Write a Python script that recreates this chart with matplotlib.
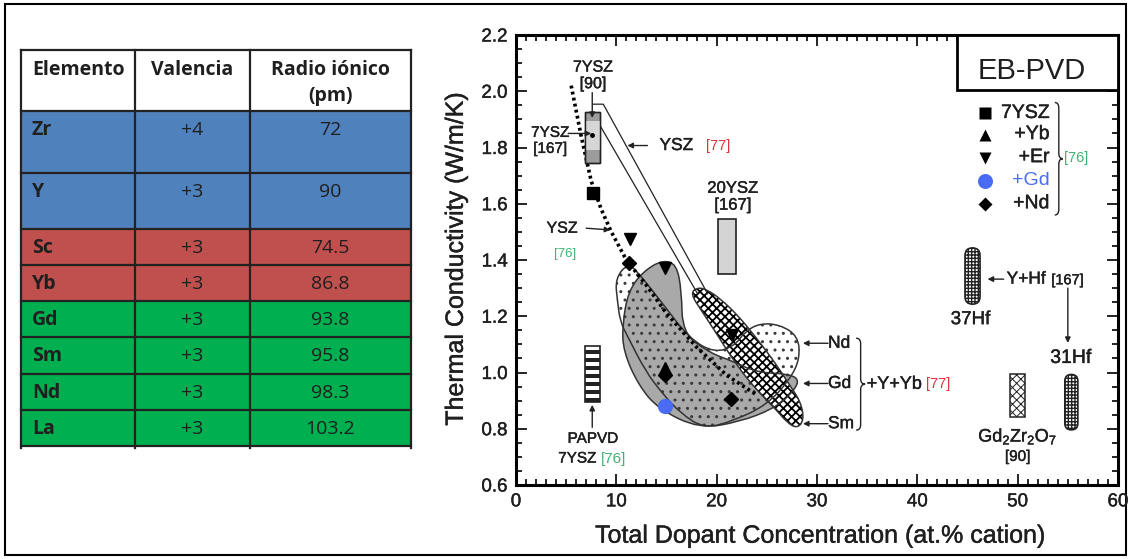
import matplotlib
matplotlib.use('Agg')
import matplotlib.pyplot as plt
import matplotlib.patches as patches
import matplotlib.patheffects as pe
from matplotlib.path import Path
import numpy as np

FONT = 'Liberation Sans'
plt.rcParams['mathtext.fontset'] = 'custom'
plt.rcParams['mathtext.rm'] = FONT
plt.rcParams['mathtext.it'] = FONT

# ---------------- table data ----------------
encabezado = ['Elemento', 'Valencia', 'Radio iónico', '(pm)']
elementos = ['Zr', 'Y', 'Sc', 'Yb', 'Gd', 'Sm', 'Nd', 'La']
valencias = ['+4', '+3', '+3', '+3', '+3', '+3', '+3', '+3']
radios = ['72', '90', '74.5', '86.8', '93.8', '95.8', '98.3', '103.2']
grupos = ['base', 'base', 'menor', 'menor', 'mayor', 'mayor', 'mayor', 'mayor']

# ---------------- plot data ----------------
ysz7_x = [7.7]
ysz7_y = [1.64]
yb_x = [14.9]
yb_y = [1.015]
er_x = [11.4, 14.9, 21.5]
er_y = [1.475, 1.37, 1.135]
gd_x = [14.9]
gd_y = [0.88]
nd_x = [11.3, 14.9, 21.4]
nd_y = [1.39, 0.99, 0.905]

# YSZ trend [76]
ysz76_x = [5.5, 6.5, 7.5, 8.5, 9.5, 11.0, 13.0, 15.0, 18.0, 21.0, 24.0]
ysz76_y = [2.02, 1.84, 1.68, 1.58, 1.50, 1.40, 1.31, 1.21, 1.09, 0.99, 0.92]

# YSZ band [77]
band_outer_x = [7.7, 8.7, 19.1]
band_outer_y = [1.954, 1.954, 1.28]
band_inner_x = [8.1, 18.1]
band_inner_y = [1.895, 1.28]

# +Y+Yb regions [77]
gd_reg_x = [12.7, 14.6, 16.0, 16.5, 16.6, 19.3, 21.6, 24.0, 27.3, 28.3, 27.3,
            25.6, 22.3, 18.3, 14.2, 12.2, 10.7, 10.6, 11.2]
gd_reg_y = [1.36, 1.40, 1.385, 1.29, 1.14, 1.07, 1.04, 1.00, 0.995, 0.97, 0.92,
            0.87, 0.825, 0.80, 0.87, 0.955, 1.075, 1.17, 1.29]
nd_reg_x = [11.2, 9.9, 10.1, 10.4, 11.1, 12.9, 14.6, 16.4, 18.8, 21.8, 25.0,
            27.3, 28.3, 28.1, 26.3, 24.3, 22.8, 21.8, 19.8, 17.3, 14.4, 12.4]
nd_reg_y = [1.39, 1.335, 1.255, 1.18, 1.13, 1.005, 0.925, 0.855, 0.80, 0.83,
            0.885, 0.975, 1.05, 1.13, 1.17, 1.175, 1.145, 1.095, 1.07, 1.12,
            1.255, 1.345]
sm_reg_x = [17.35, 18.6, 20.1, 21.8, 23.8, 25.8, 27.0, 28.0, 28.7, 28.4, 27.3,
            25.8, 24.0, 22.1, 20.3, 19.1, 18.15]
sm_reg_y = [1.282, 1.214, 1.132, 1.036, 0.944, 0.873, 0.823, 0.801, 0.830, 0.894,
            0.954, 1.036, 1.121, 1.204, 1.264, 1.293, 1.303]

# ranges: x, low, high
rng_7ysz90 = (7.65, 1.745, 1.925)
rng_7ysz167 = (7.65, 1.79, 1.895)
rng_20ysz = (21.0, 1.35, 1.546)
rng_papvd = (7.65, 0.895, 1.093)
rng_gzo = (50.0, 0.843, 0.993)
rng_37hf = (45.5, 1.243, 1.443)
rng_31hf = (55.35, 0.796, 0.993)

TXT = '#1f1f1f'
STROKE = [pe.withStroke(linewidth=0.3, foreground=TXT)]

fig = plt.figure(figsize=(11.3, 5.59), dpi=100)
bg = fig.add_axes([0, 0, 1, 1])
bg.set_xlim(0, 1130)
bg.set_ylim(559, 0)
bg.axis('off')
bg.add_patch(patches.Rectangle((5, 4), 1121, 551, fill=False, lw=1.5, ec='black'))

# ---------------- table ----------------
col_x = [21, 135, 250, 411]
row_y = [50, 111, 173, 229, 265, 301, 337, 374, 410, 446]
colores = {'base': '#4F81BD', 'menor': '#C0504D', 'mayor': '#00B050'}
tfont = 'Open Sans'
tsize = 14

for i in range(len(elementos)):
    top, bot = row_y[i + 1], row_y[i + 2]
    bg.add_patch(patches.Rectangle((col_x[0], top), col_x[-1] - col_x[0], bot - top,
                                   facecolor=colores[grupos[i]], edgecolor='none', zorder=1))
    ty = top + 19
    bg.text(col_x[0] + 11, ty, elementos[i], fontsize=tsize, fontweight='bold',
            family=tfont, color=TXT, ha='left', va='center', zorder=3)
    bg.text((col_x[1] + col_x[2]) / 2, ty, valencias[i], fontsize=tsize,
            family=tfont, color=TXT, ha='center', va='center', zorder=3)
    bg.text((col_x[2] + col_x[3]) / 2, ty, radios[i], fontsize=tsize,
            family=tfont, color=TXT, ha='center', va='center', zorder=3)

# header
bg.text(col_x[0] + 11, 70, encabezado[0], fontsize=tsize, fontweight='bold',
        family=tfont, color=TXT, ha='left', va='center')
bg.text((col_x[1] + col_x[2]) / 2, 70, encabezado[1], fontsize=tsize, fontweight='bold',
        family=tfont, color=TXT, ha='center', va='center')
bg.text((col_x[2] + col_x[3]) / 2, 70, encabezado[2], fontsize=tsize, fontweight='bold',
        family=tfont, color=TXT, ha='center', va='center')
bg.text((col_x[2] + col_x[3]) / 2, 96, encabezado[3], fontsize=tsize, fontweight='bold',
        family=tfont, color=TXT, ha='center', va='center')

# grid lines
for y in row_y:
    bg.plot([col_x[0], col_x[-1]], [y, y], color='#222222', lw=1.6, zorder=2)
for x in col_x:
    bg.plot([x, x], [row_y[0], row_y[-1] + 2], color='#222222', lw=1.6, zorder=2)

# ---------------- plot ----------------
ax = fig.add_axes([516 / 1130, 1 - 485 / 559, 602 / 1130, 450 / 559])
ax.set_xlim(0, 60)
ax.set_ylim(0.6, 2.2)
ax.set_xticks(np.arange(0, 61, 10))
ax.set_xticks(np.arange(0, 61, 1), minor=True)
ax.set_yticks(np.arange(0.6, 2.21, 0.2))
ax.set_yticks(np.arange(0.6, 2.21, 0.05), minor=True)
ax.set_yticklabels(['%.1f' % v for v in np.arange(0.6, 2.21, 0.2)])
ax.tick_params(which='both', direction='in', top=True, right=True, width=1.2,
               labelsize=13.5, pad=6)
ax.tick_params(which='major', length=8)
ax.tick_params(which='minor', length=4)
for lab in ax.get_xticklabels() + ax.get_yticklabels():
    lab.set_family(FONT)
    lab.set_color(TXT)
    lab.set_path_effects(STROKE)
for s in ax.spines.values():
    s.set_linewidth(2.2)

ax.set_xlabel('Total Dopant Concentration (at.% cation)', fontsize=18, family=FONT,
              color=TXT, va='top', path_effects=STROKE)
ax.set_ylabel('Thermal Conductivity (W/m/K)', fontsize=18, family=FONT, color=TXT,
              path_effects=STROKE)
ax.xaxis.set_label_coords(0.505, -0.086)
ax.yaxis.set_label_coords(-0.08, 0.502)

ASP = (1.6 / 450) / (60 / 602)  # y-units per x-unit for equal pixels


def smooth_patch(xs, ys, **kw):
    pts = np.column_stack([xs, ys])
    n = len(pts)
    mids = (pts + np.roll(pts, -1, axis=0)) / 2
    verts = [mids[-1]]
    codes = [Path.MOVETO]
    for i in range(n):
        verts += [pts[i], mids[i]]
        codes += [Path.CURVE3, Path.CURVE3]
    return patches.PathPatch(Path(verts, codes), **kw)


def set_hlw(p, w):
    if hasattr(p, 'set_hatch_linewidth'):
        p.set_hatch_linewidth(w)


# Nd region (white + dots), Gd region (grey), Sm region (checker)
ax.add_patch(smooth_patch(nd_reg_x, nd_reg_y, facecolor='white', edgecolor='none', zorder=2))
ax.add_patch(smooth_patch(gd_reg_x, gd_reg_y, facecolor='#a9a9a9', edgecolor='none', zorder=3))
dots = smooth_patch(nd_reg_x, nd_reg_y, facecolor='none', edgecolor='#3a3a3a', lw=0,
                    hatch='..', zorder=4)
ax.add_patch(dots)
sm = smooth_patch(sm_reg_x, sm_reg_y, facecolor='white', edgecolor='black', lw=0,
                  hatch='xxxx', zorder=5)
set_hlw(sm, 1.3)
ax.add_patch(sm)
for xs, ys in [(nd_reg_x, nd_reg_y), (gd_reg_x, gd_reg_y), (sm_reg_x, sm_reg_y)]:
    ax.add_patch(smooth_patch(xs, ys, facecolor='none', edgecolor='#333333', lw=1.1, zorder=6))

# YSZ band [77]
ax.plot(band_outer_x, band_outer_y, color='#222222', lw=0.9, zorder=6)
ax.plot(band_inner_x, band_inner_y, color='#222222', lw=0.9, zorder=6)

# YSZ trend [76]
ax.plot(ysz76_x, ysz76_y, color='black', lw=2.6, ls=(0, (0.8, 0.9)), zorder=7)


def bar(r, w, **kw):
    x, lo, hi = r
    p = patches.Rectangle((x - w / 2, lo), w, hi - lo, **kw)
    ax.add_patch(p)
    return p


def rbar(r, w, **kw):
    x, lo, hi = r
    p = patches.FancyBboxPatch((x - w / 2, lo), w, hi - lo,
                               boxstyle='round,pad=0,rounding_size=%.2f' % (w / 2),
                               mutation_aspect=ASP, **kw)
    ax.add_patch(p)
    return p


bar(rng_7ysz90, 1.5, facecolor='#9c9c9c', edgecolor='#222222', lw=1.0, zorder=8)
bar(rng_7ysz167, 1.5, facecolor='#d6d6d6', edgecolor='none', lw=0, zorder=8)
bar(rng_7ysz90, 1.5, facecolor='none', edgecolor='#222222', lw=1.0, zorder=8)
bar(rng_20ysz, 1.8, facecolor='#d4d4d4', edgecolor='#222222', lw=1.2, zorder=8)

# PAPVD striped bar
x0, lo, hi = rng_papvd
edges = np.linspace(lo, hi, 15)
for k in range(0, 14, 2):
    ax.add_patch(patches.Rectangle((x0 - 0.75, edges[k]), 1.5, edges[k + 1] - edges[k],
                                   facecolor='#222222', edgecolor='none', zorder=8))
bar(rng_papvd, 1.5, facecolor='none', edgecolor='#222222', lw=1.2, zorder=9)

g = bar(rng_gzo, 1.5, facecolor='white', edgecolor='#222222', lw=1.1, hatch='xxxx', zorder=8)
set_hlw(g, 0.7)
for r, w in [(rng_37hf, 1.5), (rng_31hf, 1.3)]:
    p = rbar(r, w, facecolor='white', edgecolor='#222222', lw=1.2, hatch='+++++', zorder=8)
    set_hlw(p, 1.0)

# markers
BLUE = '#4a6cf4'
ax.plot(ysz7_x, ysz7_y, 's', color='black', ms=9, zorder=10)
ax.plot(er_x, er_y, 'v', color='black', ms=9, zorder=10)
ax.plot(yb_x, yb_y, '^', color='black', ms=9, zorder=10)
ax.plot(nd_x, nd_y, 'D', color='black', ms=7.6, zorder=10)
ax.plot(gd_x, gd_y, 'o', color=BLUE, mec='none', ms=11, zorder=10)
ax.plot([7.6], [1.845], 'o', color='black', ms=2.5, zorder=10)

# ---------------- annotations ----------------
kw = dict(family=FONT, color=TXT, path_effects=STROKE)
arr = dict(arrowstyle='-|>', color='#222222', lw=1.0, mutation_scale=8, shrinkA=0, shrinkB=0)
RED = '#e0313a'
GRN = '#3cb371'


def note(x, y, s, size, ha='center', color=None):
    if color is None:
        ax.text(x, y, s, fontsize=size, ha=ha, va='center', zorder=13, **kw)
    else:
        ax.text(x, y, s, fontsize=size, ha=ha, va='center', zorder=13,
                family=FONT, color=color)


note(7.68, 2.086, '7YSZ', 11.5)
note(7.68, 2.027, '[90]', 11.5)
ax.annotate('', xy=(7.6, 1.905), xytext=(7.6, 1.995), arrowprops=arr, zorder=11)

note(3.4, 1.852, '7YSZ', 11)
note(3.4, 1.795, '[167]', 11)
ax.annotate('', xy=(7.5, 1.85), xytext=(5.2, 1.85), arrowprops=arr, zorder=11)

ax.annotate('', xy=(11.1, 1.807), xytext=(13.1, 1.807), arrowprops=arr, zorder=11)
note(14.3, 1.807, 'YSZ', 12.5, ha='left')
note(18.9, 1.807, '[77]', 10.5, ha='left', color=RED)

note(4.6, 1.513, 'YSZ', 11.5)
note(4.9, 1.423, '[76]', 9.5, color=GRN)
ax.annotate('', xy=(9.4, 1.507), xytext=(7.0, 1.513), arrowprops=arr, zorder=11)

note(21.6, 1.655, '20YSZ', 12)
note(21.6, 1.595, '[167]', 12)

ax.annotate('', xy=(7.6, 0.885), xytext=(7.6, 0.805), arrowprops=arr, zorder=11)
note(7.65, 0.764, 'PAPVD', 11)
note(6.1, 0.694, '7YSZ', 11)
note(9.75, 0.694, '[76]', 11, color=GRN)

for lab, y in [('Nd', 1.104), ('Gd', 0.961), ('Sm', 0.818)]:
    ax.annotate('', xy=(28.6, y), xytext=(31.1, y), arrowprops=arr, zorder=11)
    note(31.1, y, lab, 12.5, ha='left')


def brace(x, y0, y1, w, dy):
    ym = (y0 + y1) / 2
    r = w / 2
    verts = [(x, y1), (x + r, y1), (x + r, y1 - dy), (x + r, ym + dy),
             (x + r, ym), (x + w, ym), (x + r, ym), (x + r, ym - dy),
             (x + r, y0 + dy), (x + r, y0), (x, y0)]
    codes = [Path.MOVETO, Path.CURVE3, Path.CURVE3, Path.LINETO,
             Path.CURVE3, Path.CURVE3, Path.CURVE3, Path.CURVE3,
             Path.LINETO, Path.CURVE3, Path.CURVE3]
    ax.add_patch(patches.PathPatch(Path(verts, codes), fill=False, lw=1.0,
                                   edgecolor='#222222', zorder=11))


brace(33.9, 0.795, 1.122, 0.9, 0.02)
note(34.95, 0.958, '+Y+Yb', 13, ha='left')
note(40.85, 0.958, '[77]', 10.5, ha='left', color=RED)

# EB-PVD box
ax.add_patch(patches.Rectangle((0.733, 0.878), 0.267, 0.122, transform=ax.transAxes,
                               facecolor='white', edgecolor='black', lw=2.0, zorder=12))
ax.text(0.857, 0.92, 'EB-PVD', transform=ax.transAxes, fontsize=21, ha='center',
        va='center', zorder=13, family=FONT, color=TXT)

# legend
leg_y = [1.921, 1.846, 1.764, 1.682, 1.60]
leg_lab = ['7YSZ', '+Yb', '+Er', '+Gd', '+Nd']
leg_mk = ['s', '^', 'v', 'o', 'D']
leg_ms = [8.6, 8.6, 8.6, 10.8, 7.6]
for y, lab, mk, ms in zip(leg_y, leg_lab, leg_mk, leg_ms):
    c = BLUE if lab == '+Gd' else 'black'
    ax.plot([46.7], [y], mk, color=c, mec='none', ms=ms, zorder=12)
    if lab == '+Gd':
        note(53.2, y, lab, 14, ha='right', color=BLUE)
    else:
        note(53.2, y, lab, 14, ha='right')
brace(53.7, 1.56, 1.96, 0.8, 0.02)
note(54.6, 1.764, '[76]', 10.5, ha='left', color=GRN)

# Hf annotations
ax.annotate('', xy=(47.0, 1.332), xytext=(48.6, 1.332), arrowprops=arr, zorder=11)
note(48.9, 1.332, 'Y+Hf', 12.5, ha='left')
note(53.35, 1.328, '[167]', 10.5, ha='left')
ax.annotate('', xy=(55.0, 1.105), xytext=(55.0, 1.30), arrowprops=arr, zorder=11)
note(45.3, 1.188, '37Hf', 13.5)
note(55.3, 1.05, '31Hf', 14)
note(50.0, 0.772, r'Gd$_2$Zr$_2$O$_7$', 13)
note(50.0, 0.70, '[90]', 11)

fig.savefig('out.png', dpi=100)
plt.close(fig)
